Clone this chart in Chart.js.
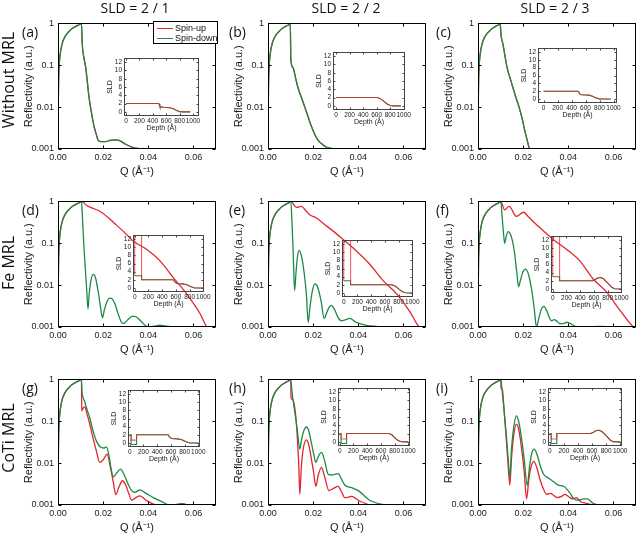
<!DOCTYPE html>
<html>
<head>
<meta charset="utf-8">
<script src="https://cdn.jsdelivr.net/npm/chart.js@4.4.1/dist/chart.umd.min.js"></script>
<style>
  body { margin: 0; width: 640px; height: 534px; position: relative; overflow: hidden; background: #fff; }
  canvas { position: absolute; }
  .txt { position: absolute; white-space: nowrap; color: #111; font-family: 'Open Sans', 'Liberation Sans', sans-serif; }
  .col { font-size: 14px; transform: translateX(-50%); }
  .row { font-size: 16px; transform: translate(-50%, -50%) rotate(-90deg); }
  .let { font-size: 14px; }
  #legend { position: absolute; left: 153px; top: 21px; width: 63px; height: 21px; border: 1px solid #000; background: #fff;
            font: 9px 'Liberation Sans', Arial, sans-serif; color: #111; white-space: nowrap; }
  #legend div { position: relative; height: 10px; line-height: 10px; padding-left: 21px; margin-top: 0.5px; }
  #legend span { position: absolute; left: 3px; top: 5px; width: 16px; height: 0; border-top: 1.3px solid; }
</style>
</head>
<body>
<script>
// text
const columnTitles = ['SLD = 2 / 1', 'SLD = 2 / 2', 'SLD = 2 / 3']
const rowTitles = ['Without MRL', 'Fe MRL', 'CoTi MRL']
const panelLetters = ['(a)', '(b)', '(c)', '(d)', '(e)', '(f)', '(g)', '(h)', '(i)']
const seriesNames = ['Spin-up', 'Spin-down']

// ticks
const reflTicks = [0.001, 0.01, 0.1, 1]
const reflLabels = ['0.001', '0.01', '0.1', '1']
const qTicks = [0, 0.02, 0.04, 0.06]
const qLabels = ['0.00', '0.02', '0.04', '0.06']
const depthTicks = [0, 200, 400, 600, 800, 1000]
const sldTicks = [0, 2, 4, 6, 8, 10, 12]

// total reflection part, same for every panel
const qRise = [0, 0.0002, 0.0005, 0.001, 0.002, 0.003, 0.004, 0.005, 0.006, 0.007, 0.008, 0.009]
const rRise = [0.001, 0.025, 0.09, 0.19, 0.35, 0.47, 0.57, 0.65, 0.73, 0.80, 0.86, 0.91]

// row 1, without MRL (spin-up = spin-down)
const qA = [...qRise, 0.0100, 0.0104, 0.0107, 0.0115, 0.0123, 0.0130, 0.0137, 0.0144, 0.0150, 0.0160, 0.0170, 0.0178, 0.0190, 0.0210, 0.0230, 0.0250, 0.0270, 0.0300, 0.0330, 0.0360, 0.0400, 0.0700]
const rA = [...rRise, 0.96, 0.99, 0.35, 0.15, 0.087, 0.040, 0.018, 0.010, 0.0065, 0.0034, 0.0022, 0.0016, 0.0015, 0.0015, 0.0016, 0.00165, 0.0016, 0.0013, 0.0011, 0.00102, 0.001, 0.001]
const qB = [...qRise, 0.0099, 0.0101, 0.0111, 0.0122, 0.0133, 0.0148, 0.0163, 0.0178, 0.0193, 0.0208, 0.0222, 0.0240, 0.0260, 0.0280, 0.0300, 0.0700]
const rB = [...rRise, 0.96, 0.14, 0.087, 0.050, 0.029, 0.017, 0.010, 0.0058, 0.0034, 0.0022, 0.0016, 0.0013, 0.0011, 0.00104, 0.001, 0.001]
const qC = [...qRise, 0.0099, 0.0101, 0.0111, 0.0120, 0.0129, 0.0142, 0.0155, 0.0168, 0.0182, 0.0195, 0.0207, 0.0217, 0.0226, 0.0232, 0.0700]
const rC = [...rRise, 0.96, 0.60, 0.31, 0.16, 0.087, 0.050, 0.029, 0.017, 0.010, 0.0055, 0.0028, 0.0017, 0.0011, 0.001, 0.001]

// row 2, Fe MRL
const qDownD = [...qRise, 0.0096, 0.0104, 0.0108, 0.0114, 0.0120, 0.0127, 0.0133, 0.0138, 0.0146, 0.0156, 0.0166, 0.0178, 0.0189, 0.0197, 0.0205, 0.0218, 0.0230, 0.0240, 0.0252, 0.0266, 0.0281, 0.0289, 0.0298, 0.0315, 0.0328, 0.0341, 0.0355, 0.0372, 0.0393, 0.0415, 0.0435, 0.0452, 0.0470, 0.0500, 0.0540, 0.0700]
const rDownD = [...rRise, 0.95, 1.0, 0.45, 0.10, 0.030, 0.008, 0.0027, 0.006, 0.013, 0.018, 0.015, 0.007, 0.0028, 0.00166, 0.0025, 0.0042, 0.0049, 0.0047, 0.0036, 0.0021, 0.0013, 0.0012, 0.0013, 0.0016, 0.0018, 0.0018, 0.0016, 0.0013, 0.00104, 0.00102, 0.00107, 0.0011, 0.00107, 0.00102, 0.001, 0.001]
const qUpD = [...qRise, 0.0096, 0.0104, 0.0130, 0.0156, 0.0185, 0.0220, 0.0250, 0.0274, 0.0310, 0.0333, 0.0392, 0.0452, 0.0510, 0.0570, 0.0629, 0.0659, 0.0700]
const rUpD = [...rRise, 0.95, 1.0, 0.78, 0.68, 0.58, 0.42, 0.30, 0.23, 0.15, 0.113, 0.072, 0.038, 0.0153, 0.0062, 0.0021, 0.001, 0.0006]

const qDownE = [...qRise, 0.0096, 0.0101, 0.0106, 0.0112, 0.0118, 0.0124, 0.0130, 0.0138, 0.0148, 0.0160, 0.0170, 0.0178, 0.0186, 0.0196, 0.0207, 0.0220, 0.0235, 0.0249, 0.0260, 0.0271, 0.0281, 0.0295, 0.0310, 0.0326, 0.0345, 0.0363, 0.0390, 0.0437, 0.0480, 0.0520, 0.0700]
const rDownE = [...rRise, 0.96, 1.0, 0.35, 0.05, 0.0074, 0.020, 0.045, 0.068, 0.050, 0.020, 0.006, 0.0013, 0.003, 0.007, 0.0107, 0.009, 0.0042, 0.0016, 0.0022, 0.003, 0.0033, 0.0026, 0.0017, 0.0014, 0.0015, 0.0016, 0.0013, 0.0011, 0.00104, 0.001, 0.001]
const qUpE = [...qRise, 0.0096, 0.0101, 0.0126, 0.0148, 0.0168, 0.0185, 0.0215, 0.0244, 0.0289, 0.0333, 0.0392, 0.0451, 0.0510, 0.0570, 0.0629, 0.0659, 0.0700]
const rUpE = [...rRise, 0.96, 1.0, 0.72, 0.76, 0.60, 0.48, 0.40, 0.30, 0.195, 0.123, 0.065, 0.0316, 0.0128, 0.0062, 0.0023, 0.0012, 0.0006]

const qDownF = [...qRise, 0.0096, 0.0101, 0.0106, 0.0112, 0.0118, 0.0124, 0.0133, 0.0145, 0.0160, 0.0172, 0.0180, 0.0188, 0.0198, 0.0211, 0.0225, 0.0240, 0.0250, 0.0259, 0.0268, 0.0280, 0.0292, 0.0305, 0.0318, 0.0326, 0.0337, 0.0348, 0.0362, 0.0378, 0.0392, 0.0410, 0.0437, 0.0480, 0.0540, 0.0600, 0.0700]
const rDownF = [...rRise, 0.96, 1.0, 0.5, 0.2, 0.10, 0.14, 0.19, 0.16, 0.07, 0.02, 0.0092, 0.013, 0.020, 0.024, 0.017, 0.0065, 0.0025, 0.001, 0.0015, 0.0026, 0.0031, 0.0024, 0.0016, 0.0014, 0.0015, 0.0014, 0.0012, 0.0012, 0.0013, 0.0012, 0.00102, 0.00101, 0.00103, 0.001, 0.001]
const qUpF = [...qRise, 0.0096, 0.0101, 0.0118, 0.0138, 0.0170, 0.0203, 0.0220, 0.0244, 0.0289, 0.0333, 0.0392, 0.0451, 0.0510, 0.0570, 0.0629, 0.0688, 0.0700]
const rUpF = [...rRise, 0.96, 1.0, 0.63, 0.76, 0.44, 0.55, 0.45, 0.33, 0.20, 0.123, 0.072, 0.038, 0.014, 0.0068, 0.0025, 0.001, 0.0009]

// row 3, CoTi MRL
const qDownG = [...qRise, 0.0096, 0.0104, 0.0106, 0.0118, 0.0126, 0.0141, 0.0155, 0.0170, 0.0192, 0.0205, 0.0215, 0.0225, 0.0235, 0.0244, 0.0260, 0.0277, 0.0295, 0.0310, 0.0326, 0.0340, 0.0363, 0.0390, 0.0422, 0.0460, 0.0496, 0.0530, 0.0550, 0.0580, 0.0700]
const rDownG = [...rRise, 0.96, 1.0, 0.55, 0.30, 0.21, 0.12, 0.06, 0.034, 0.0236, 0.023, 0.0245, 0.016, 0.0075, 0.0047, 0.0058, 0.0072, 0.005, 0.0032, 0.0022, 0.002, 0.0023, 0.0019, 0.0015, 0.0012, 0.001, 0.00104, 0.00106, 0.001, 0.001]
const qUpG = [...qRise, 0.0096, 0.0104, 0.0105, 0.0112, 0.0118, 0.0130, 0.0141, 0.0155, 0.0170, 0.0185, 0.0200, 0.0218, 0.0232, 0.0245, 0.0256, 0.0270, 0.0286, 0.0300, 0.0315, 0.0326, 0.0345, 0.0363, 0.0390, 0.0437, 0.0500, 0.0530, 0.0550, 0.0580, 0.0700]
const rUpG = [...rRise, 0.96, 1.0, 0.176, 0.21, 0.22, 0.14, 0.085, 0.04, 0.0197, 0.0104, 0.012, 0.0164, 0.008, 0.0035, 0.00176, 0.0027, 0.0038, 0.003, 0.0018, 0.0013, 0.0015, 0.00166, 0.0013, 0.001, 0.00098, 0.00104, 0.00108, 0.00098, 0.0009]

const qDownH = [...qRise, 0.0096, 0.0101, 0.0105, 0.0110, 0.0120, 0.0130, 0.0141, 0.0148, 0.0158, 0.0170, 0.0180, 0.0190, 0.0202, 0.0212, 0.0222, 0.0237, 0.0250, 0.0266, 0.0280, 0.0311, 0.0325, 0.0340, 0.0370, 0.0400, 0.0450, 0.0500, 0.0540, 0.0700]
const rDownH = [...rRise, 0.96, 1.0, 0.60, 0.35, 0.15, 0.06, 0.0215, 0.035, 0.058, 0.073, 0.060, 0.035, 0.017, 0.0104, 0.014, 0.018, 0.012, 0.0055, 0.0052, 0.0056, 0.0042, 0.003, 0.0026, 0.0022, 0.0013, 0.00105, 0.001, 0.001]
const qUpH = [...qRise, 0.0096, 0.0101, 0.0102, 0.0110, 0.0118, 0.0125, 0.0130, 0.0136, 0.0141, 0.0147, 0.0155, 0.0170, 0.0180, 0.0190, 0.0202, 0.0212, 0.0222, 0.0237, 0.0250, 0.0270, 0.0290, 0.0311, 0.0325, 0.0340, 0.0370, 0.0400, 0.0450, 0.0500, 0.0700]
const rUpH = [...rRise, 0.96, 1.0, 0.37, 0.33, 0.22, 0.10, 0.04, 0.010, 0.0018, 0.007, 0.020, 0.036, 0.028, 0.015, 0.006, 0.0028, 0.005, 0.0079, 0.005, 0.0022, 0.0025, 0.0028, 0.0021, 0.0015, 0.0016, 0.0013, 0.001, 0.0009, 0.0009]

const qDownI = [...qRise, 0.0096, 0.0101, 0.0106, 0.0115, 0.0125, 0.0134, 0.0141, 0.0148, 0.0158, 0.0170, 0.0180, 0.0190, 0.0205, 0.0218, 0.0228, 0.0238, 0.0249, 0.0260, 0.0275, 0.0290, 0.0310, 0.0335, 0.0355, 0.0380, 0.0405, 0.0425, 0.0445, 0.0468, 0.0485, 0.0510, 0.0540, 0.0700]
const rDownI = [...rRise, 0.96, 1.0, 0.60, 0.20, 0.05, 0.012, 0.0046, 0.020, 0.07, 0.134, 0.10, 0.05, 0.012, 0.0029, 0.008, 0.017, 0.0216, 0.017, 0.009, 0.0055, 0.0045, 0.0036, 0.003, 0.0028, 0.002, 0.0014, 0.0013, 0.0014, 0.0014, 0.0011, 0.001, 0.001]
const qUpI = [...qRise, 0.0096, 0.0101, 0.0102, 0.0108, 0.0115, 0.0125, 0.0134, 0.0141, 0.0148, 0.0158, 0.0170, 0.0180, 0.0190, 0.0205, 0.0215, 0.0225, 0.0235, 0.0247, 0.0260, 0.0275, 0.0290, 0.0305, 0.0320, 0.0335, 0.0350, 0.0370, 0.0385, 0.0400, 0.0420, 0.0435, 0.0455, 0.0480, 0.0510, 0.0700]
const rUpI = [...rRise, 0.96, 1.0, 0.62, 0.58, 0.20, 0.04, 0.008, 0.003, 0.012, 0.045, 0.085, 0.065, 0.030, 0.006, 0.0014, 0.004, 0.008, 0.011, 0.008, 0.004, 0.0024, 0.0018, 0.0019, 0.0017, 0.0015, 0.0016, 0.0018, 0.0016, 0.0014, 0.0015, 0.0012, 0.0011, 0.001, 0.0009]

// SLD profiles for the insets
const depthA = [0, 480, 495, 505, 520, 560, 650, 700, 750, 800, 850, 960]
const sldA = [2, 2, 1.9, 1.3, 1.2, 1.1, 1.0, 0.8, 0.4, 0.05, 0, 0]
const depthB = [0, 600, 650, 700, 750, 800, 850, 960]
const sldB = [2, 2, 1.8, 1.2, 0.5, 0.1, 0, 0]
const depthC = [0, 490, 505, 515, 540, 600, 650, 700, 750, 800, 960]
const sldC = [2, 2, 1.8, 1.3, 1.1, 1.05, 1.0, 0.7, 0.3, 0, 0]
const depthD = [0, 0, 100, 100, 560, 580, 610, 700, 760, 820, 880, 1000]
const sldUpD = [3, 14, 14, 2, 2, 1.6, 1.1, 1.0, 0.8, 0.3, 0, 0]
const sldDownD = [3, 3, 3, 2, 2, 1.6, 1.1, 1.0, 0.8, 0.3, 0, 0]
const depthE = [0, 0, 100, 100, 700, 750, 800, 850, 900, 1000]
const sldUpE = [3, 14, 14, 2, 2, 1.7, 1.0, 0.35, 0.05, 0]
const sldDownE = [3, 3, 3, 2, 2, 1.7, 1.0, 0.35, 0.05, 0]
const depthF = [0, 0, 100, 100, 580, 620, 660, 700, 740, 800, 860, 900, 1000]
const sldUpF = [3, 14, 14, 2, 2, 2.3, 2.75, 2.8, 2.5, 1.5, 0.4, 0.05, 0]
const sldDownF = [3, 3, 3, 2, 2, 2.3, 2.75, 2.8, 2.5, 1.5, 0.4, 0.05, 0]
const depthG = [0, 20, 20, 100, 100, 560, 580, 610, 700, 760, 820, 880, 1000]
const sldUpG = [2, 2, 0.7, 0.7, 2, 2, 1.5, 1.1, 1.0, 0.8, 0.3, 0, 0]
const sldDownG = [2, 2, -0.4, -0.4, 2, 2, 1.5, 1.1, 1.0, 0.8, 0.3, 0, 0]
const depthH = [0, 20, 20, 100, 100, 720, 760, 800, 850, 900, 1000]
const sldUpH = [2, 2, 0.7, 0.7, 2, 2, 1.7, 1.0, 0.35, 0.05, 0]
const sldDownH = [2, 2, -0.4, -0.4, 2, 2, 1.7, 1.0, 0.35, 0.05, 0]
const depthI = [0, 20, 20, 100, 100, 580, 620, 660, 700, 740, 800, 860, 900, 1000]
const sldUpI = [2, 2, 0.7, 0.7, 2, 2, 2.3, 2.75, 2.8, 2.5, 1.5, 0.4, 0.05, 0]
const sldDownI = [2, 2, -0.4, -0.4, 2, 2, 2.3, 2.75, 2.8, 2.5, 1.5, 0.4, 0.05, 0]

const RED = '#e3262e'
const GREEN = '#1c8a45'

// panels: curves + inset frame box [left, top, width, height] and depth range
const panels = [
  { q: [qA, qA], r: [rA, rA], d: [depthA, depthA], s: [sldA, sldA], box: [124, 58, 75, 58], dr: [-30, 1090] },
  { q: [qB, qB], r: [rB, rB], d: [depthB, depthB], s: [sldB, sldB], box: [333, 52, 72, 58], dr: [-45, 1020] },
  { q: [qC, qC], r: [rC, rC], d: [depthC, depthC], s: [sldC, sldC], box: [538, 48, 79, 55], dr: [-80, 1050] },
  { q: [qUpD, qDownD], r: [rUpD, rDownD], d: [depthD, depthD], s: [sldUpD, sldDownD], box: [133, 235, 71, 57], dr: [-25, 1010] },
  { q: [qUpE, qDownE], r: [rUpE, rDownE], d: [depthE, depthE], s: [sldUpE, sldDownE], box: [342, 240, 71, 57], dr: [-25, 1010] },
  { q: [qUpF, qDownF], r: [rUpF, rDownF], d: [depthF, depthF], s: [sldUpF, sldDownF], box: [551, 236, 71, 57], dr: [-25, 1010] },
  { q: [qUpG, qDownG], r: [rUpG, rDownG], d: [depthG, depthG], s: [sldUpG, sldDownG], box: [128, 390, 72, 57], dr: [-25, 1025] },
  { q: [qUpH, qDownH], r: [rUpH, rDownH], d: [depthH, depthH], s: [sldUpH, sldDownH], box: [338, 388, 72, 58], dr: [-25, 1025] },
  { q: [qUpI, qDownI], r: [rUpI, rDownI], d: [depthI, depthI], s: [sldUpI, sldDownI], box: [548, 388, 74, 58], dr: [-25, 1025] }
]

Chart.defaults.font.family = "'Liberation Sans', Arial, sans-serif"
Chart.defaults.color = '#1a1a1a'

// box round the plot area with inward ticks on all sides
const framePlugin = {
  id: 'frame',
  afterDatasetsDraw(chart, args, opts) {
    const { ctx, chartArea: a, scales: { x, y } } = chart
    const l = Math.round(a.left) + 0.5, t = Math.round(a.top) + 0.5
    const r = Math.round(a.right) - 0.5, b = Math.round(a.bottom) - 0.5
    const len = opts.tick
    ctx.save()
    ctx.strokeStyle = opts.color
    ctx.lineWidth = 1
    ctx.strokeRect(l, t, r - l, b - t)
    ctx.beginPath()
    x.ticks.forEach(tk => {
      const px = Math.round(x.getPixelForValue(tk.value)) + 0.5
      ctx.moveTo(px, b); ctx.lineTo(px, b - len)
      ctx.moveTo(px, t); ctx.lineTo(px, t + len)
    })
    y.ticks.forEach(tk => {
      const py = Math.round(y.getPixelForValue(tk.value)) + 0.5
      ctx.moveTo(l, py); ctx.lineTo(l + len, py)
      ctx.moveTo(r, py); ctx.lineTo(r - len, py)
    })
    ctx.stroke()
    ctx.restore()
  }
}

const pts = (xs, ys) => xs.map((v, i) => ({ x: v, y: ys[i] }))

const addCanvas = (left, top, w, h) => {
  const c = document.createElement('canvas')
  c.width = w
  c.height = h
  c.style.left = left + 'px'
  c.style.top = top + 'px'
  document.body.appendChild(c)
  return c
}

const addText = (cls, text, left, top) => {
  const el = document.createElement('div')
  el.className = 'txt ' + cls
  el.textContent = text
  el.style.left = left + 'px'
  el.style.top = top + 'px'
  document.body.appendChild(el)
}

const mainChart = (p, row, col) => {
  const cv = addCanvas(17 + 210 * col, 14 + 178 * row, 205, 166)
  new Chart(cv, {
    type: 'line',
    data: {
      datasets: [
        { label: seriesNames[1], data: pts(p.q[1], p.r[1]), borderColor: GREEN },
        { label: seriesNames[0], data: pts(p.q[0], p.r[0]), borderColor: RED }
      ]
    },
    options: {
      responsive: false,
      animation: false,
      layout: { padding: { top: 8, right: 6, left: 0, bottom: 0 } },
      elements: {
        point: { radius: 0 },
        line: { borderWidth: 1.3, cubicInterpolationMode: 'monotone' }
      },
      plugins: { legend: { display: false }, tooltip: { enabled: false }, frame: { tick: 3, color: '#000' } },
      scales: {
        x: {
          type: 'linear', min: 0, max: 0.07,
          afterBuildTicks: s => { s.ticks = qTicks.map(v => ({ value: v })) },
          afterFit: s => { s.height = 31 },
          grid: { display: false, drawTicks: false },
          border: { display: false },
          ticks: { font: { size: 9 }, padding: 3, maxRotation: 0, autoSkip: false, callback: v => qLabels[qTicks.indexOf(v)] },
          title: { display: true, text: 'Q (Å⁻¹)', font: { size: 11 }, padding: { top: 0, bottom: 1 } }
        },
        y: {
          type: 'logarithmic', min: 0.001, max: 1,
          afterBuildTicks: s => { s.ticks = reflTicks.map(v => ({ value: v })) },
          afterFit: s => { s.width = 41 },
          grid: { display: false, drawTicks: false },
          border: { display: false },
          ticks: { font: { size: 9 }, padding: 4, autoSkip: false, callback: v => reflLabels[reflTicks.indexOf(v)] },
          title: { display: true, text: 'Reflectivity (a.u.)', font: { size: 11 }, padding: { top: 5, bottom: 0 } }
        }
      }
    },
    plugins: [framePlugin]
  })
}

const insetChart = (p) => {
  const [L, T, W, H] = p.box
  const cv = addCanvas(L - 18, T - 6, 18 + W + 12, 6 + H + 16)
  new Chart(cv, {
    type: 'line',
    data: {
      datasets: [
        { label: seriesNames[0], data: pts(p.d[0], p.s[0]), borderColor: 'rgba(227,38,46,0.72)' },
        { label: seriesNames[1], data: pts(p.d[1], p.s[1]), borderColor: GREEN }
      ]
    },
    options: {
      responsive: false,
      animation: false,
      layout: { padding: { top: 6, right: 12, left: 0, bottom: 0 } },
      elements: { point: { radius: 0 }, line: { borderWidth: 1.1, tension: 0 } },
      plugins: { legend: { display: false }, tooltip: { enabled: false }, frame: { tick: 2, color: '#444' } },
      scales: {
        x: {
          type: 'linear', min: p.dr[0], max: p.dr[1],
          afterBuildTicks: s => { s.ticks = depthTicks.map(v => ({ value: v })) },
          afterFit: s => { s.height = 16 },
          grid: { display: false, drawTicks: false },
          border: { display: false },
          ticks: { font: { size: 6.5 }, padding: 1, maxRotation: 0, autoSkip: false, callback: v => String(v) },
          title: { display: true, text: 'Depth (Å)', font: { size: 7 }, padding: { top: 0, bottom: 0 } }
        },
        y: {
          type: 'linear', min: -1, max: 13,
          afterBuildTicks: s => { s.ticks = sldTicks.map(v => ({ value: v })) },
          afterFit: s => { s.width = 18 },
          grid: { display: false, drawTicks: false },
          border: { display: false },
          ticks: { font: { size: 6.5 }, padding: 2, autoSkip: false, callback: v => String(v) },
          title: { display: true, text: 'SLD', font: { size: 7 }, padding: { top: 0, bottom: 0 } }
        }
      }
    },
    plugins: [framePlugin]
  })
}

panels.forEach((p, i) => {
  const row = Math.floor(i / 3), col = i % 3
  mainChart(p, row, col)
  insetChart(p)
  addText('let', panelLetters[i], 22 + 207 * col, 22 + 178 * row)
})

columnTitles.forEach((t, c) => addText('col', t, [135, 346, 555][c], -2))
rowTitles.forEach((t, r) => addText('row', t, 8, [80, 263, 438][r]))

// legend of panel (a)
const legend = document.createElement('div')
legend.id = 'legend'
legend.innerHTML = seriesNames.map((n, i) =>
  `<div><span style="border-color:${i === 0 ? RED : GREEN}"></span>${n}</div>`).join('')
document.body.appendChild(legend)
</script>
</body>
</html>
